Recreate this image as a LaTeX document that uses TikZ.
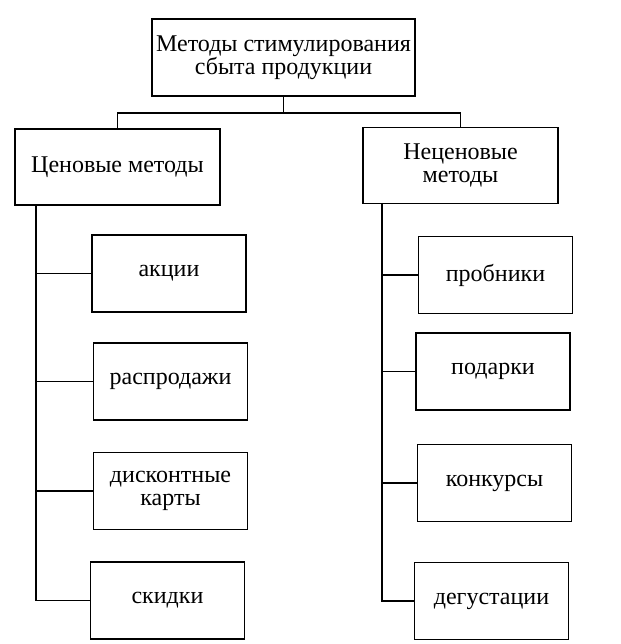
\documentclass[tikz,border=0pt]{standalone}
\usepackage{fontspec}
\setmainfont{Liberation Serif}
\usepackage{tikz}
\usetikzlibrary{positioning}
\tikzstyle{bloc}=[
        rectangle,
        draw,
        line width=1.8pt,
        align=center,
        inner sep=0pt,
        font=\fontsize{24}{23}\selectfont
]
\tikzstyle{tete}=[bloc,minimum width=263pt,minimum height=77pt]
\tikzstyle{groupe}=[bloc,minimum height=76pt]
\tikzstyle{feuille}=[bloc,minimum width=154pt,minimum height=77pt]
\tikzstyle{lien}=[line width=1.6pt]

\begin{document}
\begin{tikzpicture}[x=1pt,y=-1pt]
\useasboundingbox (0,0) rectangle (620,644);
\node[tete] (racine) at (283.5,57.5) {Методы стимулирования\\сбыта продукции};
\node[groupe,minimum width=205pt] (prix) at (117.5,167) {Ценовые методы};
\node[groupe,minimum width=195pt] (horsprix) at (460.5,165.5) {Неценовые\\методы};
\node[feuille] (aktsii) at (169,273.5) {акции};
\node[feuille] (rasprod) at (170.5,381.5) {распродажи};
\node[feuille] (karty) at (170.5,491) {дисконтные\\карты};
\node[feuille] (skidki) at (167.5,600.5) {скидки};
\node[feuille] (probniki) at (495.5,275) {пробники};
\node[feuille] (podarki) at (493,371.5) {подарки};
\node[feuille] (konkursy) at (494.5,483) {конкурсы};
\node[feuille] (degust) at (491.5,601) {дегустации};
\coordinate (fourche) at (283.5,113);
\coordinate (troncG) at (36,205);
\coordinate (troncD) at (382,203);
%Drawing Edges
\draw[lien] (racine.south) -- (fourche);
\draw[lien] (fourche) -| (prix.north);
\draw[lien] (fourche) -| (horsprix.north);
\draw[lien] (troncG) |- (skidki.west);
\draw[lien] (aktsii.west) -- (aktsii.west -| troncG);
\draw[lien] (rasprod.west) -- (rasprod.west -| troncG);
\draw[lien] (karty.west) -- (karty.west -| troncG);
\draw[lien] (troncD) |- (degust.west);
\draw[lien] (probniki.west) -- (probniki.west -| troncD);
\draw[lien] (podarki.west) -- (podarki.west -| troncD);
\draw[lien] (konkursy.west) -- (konkursy.west -| troncD);
\end{tikzpicture}
\end{document}
